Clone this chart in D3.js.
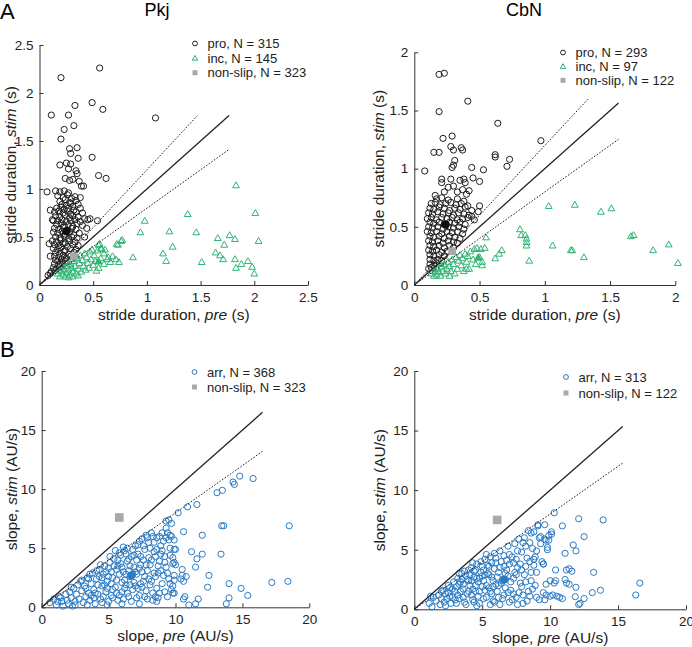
<!DOCTYPE html>
<html><head><meta charset="utf-8">
<script src="https://cdn.jsdelivr.net/npm/d3@7"></script>
<style>
html,body{margin:0;padding:0;background:#fff;}
svg{display:block;font-family:"Liberation Sans",Arial,sans-serif;}
</style></head>
<body>
<script>
// ---------------- DATA ----------------
const strideTicksPkj = [0, 0.5, 1, 1.5, 2, 2.5];
const strideTicksCbN = [0, 0.5, 1, 1.5, 2];
const slopeTicks = [0, 5, 10, 15, 20];

const legendPkjA = ["pro, N = 315", "inc, N = 145", "non-slip, N = 323"];
const legendCbnA = ["pro, N = 293", "inc, N = 97", "non-slip, N = 122"];
const legendPkjB = ["arr, N = 368", "non-slip, N = 323"];
const legendCbnB = ["arr, N = 313", "non-slip, N = 122"];

// Pkj stride duration: pre (x), stim (y)
const pkjPro = [
[0.20,2.16],[0.56,2.26],[0.11,1.77],[0.27,1.77],[0.49,1.90],[0.33,1.87],[0.59,1.83],[0.23,1.62],[0.32,1.66],[0.20,1.52],
[1.08,1.74],[0.28,1.42],[0.29,1.37],[0.35,1.43],[0.36,1.32],[0.49,1.33],[0.19,1.25],[0.25,1.27],[0.29,1.26],[0.27,1.21],
[0.34,1.19],[0.55,1.14],[0.62,1.11],[0.24,1.11],[0.28,1.09],[0.31,1.10],[0.35,1.16],[0.37,1.08],[0.39,1.03],[0.41,1.03],
[0.38,0.91],[0.07,0.97],[0.15,0.98],[0.19,0.97],[0.23,0.98],[0.27,0.96],[0.10,0.78],[0.13,0.67],[0.09,0.43],[0.10,0.30],
[0.54,0.67],[0.47,0.69],[0.44,0.59],[0.42,0.50],[0.45,0.68],
[0.17,0.93],[0.22,0.91],[0.26,0.94],[0.30,0.90],[0.33,0.92],
[0.19,0.87],[0.24,0.89],[0.28,0.86],[0.34,0.88],
[0.21,0.84],[0.25,0.83],[0.29,0.85],[0.31,0.82],[0.36,0.84],
[0.16,0.80],[0.20,0.81],[0.23,0.79],[0.27,0.80],[0.32,0.78],[0.38,0.80],
[0.14,0.76],[0.18,0.77],[0.22,0.75],[0.26,0.77],[0.29,0.74],[0.34,0.76],[0.40,0.75],
[0.15,0.72],[0.19,0.71],[0.24,0.73],[0.28,0.70],[0.31,0.72],[0.36,0.71],[0.42,0.69],
[0.12,0.68],[0.17,0.67],[0.21,0.68],[0.25,0.66],[0.29,0.67],[0.33,0.68],[0.38,0.66],
[0.16,0.63],[0.20,0.64],[0.23,0.62],[0.27,0.63],[0.31,0.61],[0.35,0.64],[0.40,0.62],
[0.14,0.59],[0.18,0.58],[0.22,0.60],[0.26,0.57],[0.30,0.59],[0.34,0.58],
[0.13,0.55],[0.17,0.54],[0.21,0.56],[0.24,0.53],[0.28,0.55],[0.32,0.52],[0.37,0.54],
[0.15,0.50],[0.19,0.49],[0.23,0.51],[0.27,0.48],[0.30,0.50],[0.35,0.49],
[0.12,0.46],[0.16,0.45],[0.20,0.47],[0.24,0.44],[0.28,0.46],[0.33,0.45],
[0.14,0.42],[0.18,0.41],[0.22,0.43],[0.26,0.40],[0.31,0.42],[0.36,0.41],
[0.13,0.38],[0.17,0.37],[0.20,0.39],[0.24,0.36],[0.29,0.38],[0.34,0.37],
[0.15,0.34],[0.19,0.33],[0.23,0.35],[0.27,0.32],[0.32,0.34],
[0.14,0.30],[0.18,0.29],[0.22,0.31],[0.25,0.28],[0.29,0.30],
[0.15,0.26],[0.17,0.25],[0.21,0.27],[0.24,0.25],
[0.14,0.22],[0.18,0.21],[0.21,0.23],
[0.13,0.18],[0.16,0.17],[0.19,0.19],
[0.11,0.14],[0.14,0.15],[0.08,0.10],[0.10,0.12]
];
const pkjInc = [
[1.83,1.04],[2.01,0.75],[1.38,0.74],[0.98,0.67],[1.21,0.56],[1.46,0.55],[0.94,0.55],[0.77,0.47],[0.73,0.42],[1.66,0.49],
[1.77,0.52],[1.82,0.48],[2.04,0.46],[1.72,0.42],[1.24,0.40],[1.15,0.33],[1.64,0.34],[1.68,0.31],[1.71,0.27],[1.82,0.27],
[1.94,0.25],[1.88,0.22],[1.83,0.18],[1.98,0.19],[2.00,0.12],[1.18,0.25],[1.51,0.24],[0.87,0.29],[0.71,0.27],[0.74,0.24],
[0.64,0.29],[0.60,0.33],[0.57,0.38],[0.55,0.42],[0.55,0.18],
[0.17,0.12],[0.19,0.09],[0.20,0.15],[0.22,0.11],[0.23,0.17],[0.24,0.09],[0.25,0.13],[0.26,0.20],[0.27,0.16],[0.28,0.11],
[0.29,0.22],[0.30,0.18],[0.31,0.14],[0.32,0.25],[0.33,0.20],[0.34,0.12],[0.35,0.28],[0.36,0.10],[0.36,0.17],[0.37,0.23],
[0.38,0.31],[0.39,0.14],[0.40,0.26],[0.41,0.20],[0.42,0.33],[0.43,0.16],[0.44,0.29],[0.45,0.23],[0.46,0.18],[0.47,0.35],
[0.48,0.27],[0.49,0.37],[0.50,0.21],[0.51,0.31],[0.52,0.25],[0.53,0.15],[0.54,0.36],[0.56,0.43],[0.57,0.28],
[0.58,0.38],[0.60,0.22],[0.61,0.37],[0.63,0.27],[0.66,0.24],[0.68,0.30],[0.72,0.43],[0.76,0.46],
[0.21,0.19],[0.18,0.16],[0.26,0.24],[0.30,0.27],[0.34,0.30],[0.27,0.08],[0.31,0.09]
];
const pkjMeanPro = [0.25, 0.56];
const pkjMeanInc = [0.55, 0.24];
const pkjMeanNonslipA = [0.32, 0.30];

// CbN stride duration
const cbnPro = [
[0.19,1.81],[0.23,1.82],[0.19,1.49],[0.41,1.58],[0.64,1.39],[0.97,1.24],[0.22,1.26],[0.29,1.28],[0.28,1.19],[0.30,1.16],
[0.36,1.18],[0.37,1.16],[0.15,1.14],[0.19,1.14],[0.08,0.98],[0.62,1.12],[0.62,1.10],[0.73,1.08],[0.71,1.02],[0.31,1.07],
[0.30,1.03],[0.29,1.01],[0.44,1.01],[0.53,0.99],[0.50,0.89],[0.21,0.91],[0.21,0.88],[0.28,0.91],[0.35,0.90],[0.38,0.91],
[0.45,0.92],[0.30,0.85],[0.42,0.81],[0.23,0.80],[0.50,0.68],[0.49,0.63],[0.44,0.59],[0.33,0.80],[0.37,0.82],[0.40,0.78],
[0.26,0.84],[0.16,0.77],[0.39,0.88],
[0.17,0.74],[0.21,0.75],[0.26,0.73],[0.33,0.74],[0.38,0.72],
[0.13,0.70],[0.16,0.71],[0.20,0.69],[0.24,0.70],[0.28,0.71],[0.32,0.69],[0.36,0.70],[0.41,0.68],
[0.12,0.66],[0.15,0.65],[0.19,0.67],[0.23,0.66],[0.27,0.64],[0.31,0.66],[0.35,0.65],[0.39,0.67],[0.44,0.64],
[0.11,0.62],[0.14,0.61],[0.18,0.63],[0.22,0.61],[0.26,0.62],[0.30,0.60],[0.34,0.62],[0.38,0.61],[0.42,0.60],
[0.10,0.57],[0.13,0.58],[0.17,0.56],[0.21,0.58],[0.25,0.57],[0.29,0.58],[0.33,0.56],[0.37,0.57],[0.41,0.58],[0.46,0.56],
[0.12,0.54],[0.15,0.53],[0.19,0.54],[0.23,0.52],[0.27,0.54],[0.31,0.53],[0.35,0.54],[0.39,0.52],
[0.11,0.50],[0.14,0.49],[0.18,0.50],[0.22,0.48],[0.26,0.50],[0.30,0.49],[0.34,0.50],[0.38,0.48],
[0.10,0.46],[0.13,0.45],[0.17,0.46],[0.21,0.44],[0.25,0.46],[0.29,0.45],[0.33,0.46],[0.37,0.44],
[0.12,0.42],[0.15,0.41],[0.19,0.42],[0.23,0.40],[0.27,0.42],[0.31,0.41],[0.35,0.40],
[0.11,0.38],[0.14,0.37],[0.18,0.38],[0.22,0.36],[0.26,0.38],[0.30,0.37],[0.33,0.36],
[0.12,0.34],[0.15,0.33],[0.19,0.34],[0.23,0.32],[0.27,0.34],[0.30,0.32],
[0.11,0.30],[0.14,0.29],[0.17,0.30],[0.21,0.28],[0.25,0.29],
[0.12,0.26],[0.15,0.25],[0.19,0.26],[0.23,0.25],
[0.12,0.22],[0.15,0.21],[0.18,0.22],[0.21,0.21],
[0.12,0.18],[0.15,0.17],[0.17,0.19],[0.11,0.14],[0.13,0.15]
];
const cbnInc = [
[1.03,0.68],[1.23,0.69],[1.43,0.63],[1.51,0.66],[1.66,0.42],[1.68,0.43],[0.81,0.48],[0.82,0.43],[0.85,0.43],[0.86,0.40],
[0.86,0.37],[0.86,0.34],[1.06,0.34],[1.20,0.30],[1.21,0.30],[1.30,0.24],[1.83,0.30],[1.95,0.35],[2.02,0.19],[0.88,0.21],
[0.67,0.30],[0.65,0.27],[0.62,0.23],[0.55,0.41],[0.54,0.32],[0.51,0.31],[0.48,0.32],[0.52,0.17],[0.40,0.14],
[0.13,0.10],[0.15,0.08],[0.16,0.12],[0.17,0.09],[0.18,0.14],[0.19,0.11],[0.20,0.08],[0.21,0.16],[0.22,0.12],[0.23,0.18],
[0.24,0.10],[0.25,0.14],[0.26,0.20],[0.27,0.08],[0.27,0.16],[0.28,0.12],[0.29,0.22],[0.30,0.18],[0.31,0.10],[0.32,0.24],
[0.33,0.14],[0.34,0.21],[0.35,0.26],[0.36,0.17],[0.37,0.23],[0.38,0.12],[0.39,0.27],[0.40,0.20],[0.41,0.25],[0.42,0.14],
[0.43,0.29],[0.45,0.22],[0.46,0.31],[0.47,0.18],[0.50,0.24],[0.52,0.20],[0.20,0.19],[0.17,0.15],[0.14,0.12]
];
const cbnMeanPro = [0.24, 0.52];
const cbnMeanInc = [0.49, 0.23];
const cbnMeanNonslipA = [0.29, 0.29];

// Pkj slope: pre (x), stim (y)
const pkjArr = [
[14.8,11.1],[15.8,10.9],[13.5,9.9],[13.1,9.7],[14.3,10.6],[14.4,10.4],[11.6,8.7],[10.9,8.5],[10.2,8.0],[9.3,7.3],
[9.7,7.1],[9.3,6.7],[18.5,6.9],[13.45,6.9],[13.6,6.9],[10.6,6.4],[12.0,6.1],[11.2,4.7],[12.0,4.5],[11.6,4.1],
[11.5,3.4],[13.4,4.5],[12.5,2.7],[17.2,2.1],[18.4,2.2],[14.0,2.0],[12.4,1.7],[14.9,1.6],[15.4,1.0],[14.0,0.8],
[13.8,0.3],[11.7,0.7],[10.7,0.9],[10.6,0.7],[11.0,0.2],[11.5,0.3],[9.9,1.2],[9.8,1.8],[10.8,2.6],[10.5,2.7],
[10.5,3.2],[9.9,3.8],[9.9,4.9],[9.5,5.7],[9.6,6.1],[10.6,2.2],[10.4,2.4],
[0.6,0.4],[0.9,0.7],[1.1,0.2],[1.3,0.9],[1.5,0.5],[1.6,0.1],[1.8,1.1],[1.9,0.6],[2.0,0.3],
[2.1,1.3],[2.2,0.8],[2.3,0.1],[2.4,1.6],[2.5,0.5],[2.6,1.1],[2.7,1.9],[2.8,0.7],[2.9,2.2],[3.0,1.4],[2.5,0.2],
[3.1,0.4],[3.2,1.8],[3.3,0.9],[3.4,2.5],[3.5,1.2],[3.6,0.6],[3.7,2.0],[3.8,2.9],[3.9,1.5],[4.0,0.3],[3.3,1.6],[3.7,1.0],[3.5,2.4],
[4.1,2.4],[4.2,1.1],[4.3,3.2],[4.4,0.7],[4.5,1.8],[4.6,2.8],[4.7,3.5],[4.8,1.3],[4.9,2.2],[5.0,0.5],[4.2,1.9],[4.4,3.6],[4.6,0.9],[4.8,3.0],[4.9,1.6],[4.3,2.6],
[5.1,3.8],[5.2,1.0],[5.3,2.5],[5.4,4.1],[5.5,1.7],[5.6,3.2],[5.7,0.6],[5.8,2.8],[5.9,4.4],[6.0,1.3],[5.2,2.0],[5.4,3.5],[5.6,2.3],[5.8,1.0],[5.9,3.7],[5.1,4.3],[5.5,4.8],[5.7,4.0],[6.0,2.1],[5.3,0.8],
[6.1,3.0],[6.2,4.8],[6.3,1.9],[6.4,3.9],[6.5,0.9],[6.6,2.6],[6.7,4.3],[6.8,1.5],[6.9,3.4],[7.0,5.2],[6.2,2.3],[6.4,1.2],[6.6,3.5],[6.8,4.9],[6.9,2.1],[6.3,4.5],[6.5,3.1],[6.7,0.5],[7.0,1.8],[6.1,5.1],
[7.1,2.8],[7.2,4.5],[7.3,1.0],[7.4,3.6],[7.5,5.8],[7.6,2.2],[7.7,4.9],[7.8,1.4],[7.9,3.1],[8.0,5.5],[7.2,5.3],[7.4,2.0],[7.6,4.0],[7.8,6.1],[7.9,0.7],[7.3,3.3],[7.7,2.6],[8.0,4.2],[7.5,1.7],[7.1,0.8],
[8.1,3.6],[8.2,6.3],[8.3,1.2],[8.4,4.7],[8.5,2.6],[8.6,5.9],[8.7,0.8],[8.8,3.9],[8.9,5.2],[9.0,2.0],[8.2,2.2],[8.4,5.5],[8.6,1.6],[8.8,6.0],[8.9,3.1],[8.3,0.6],[8.5,4.3],[8.7,2.9],[9.0,4.8],[8.1,1.9],
[9.1,5.6],[9.2,1.3],[9.3,3.4],[9.4,6.3],[9.5,2.4],[9.6,5.0],[9.7,1.5],[9.8,3.7],[9.9,2.7],[10.0,4.9],[9.2,3.8],[9.4,0.9],[9.6,2.0],[9.8,1.2],[9.3,5.9],[9.5,7.4],[9.9,5.7],[9.7,6.0],[9.9,2.3],[10.0,3.6],
[3.0,2.3],[3.4,0.2],[3.6,2.8],[4.0,1.2],[4.1,3.1],[4.5,0.4],[4.5,2.5],[4.7,1.9],[5.0,3.3],[5.0,2.6],[5.2,3.0],[5.3,1.5],
[5.6,1.2],[5.7,3.5],[5.8,4.6],[6.0,3.4],[6.1,0.7],[6.2,1.6],[6.3,2.8],[6.4,5.0],[6.5,4.1],[6.6,1.9],[6.8,2.8],[6.9,4.4],
[7.0,3.0],[7.1,4.0],[7.2,1.6],[7.3,5.6],[7.4,4.3],[7.5,3.0],[7.6,5.2],[7.7,0.9],[7.8,3.6],[7.9,5.9],[8.0,2.4],[8.1,5.0],
[8.2,4.0],[8.3,6.0],[8.4,2.9],[8.5,0.9],[8.6,4.9],[8.7,3.5],[8.8,1.2],[8.9,4.5],[9.0,6.3],[9.1,2.7],[9.2,4.3],[9.4,2.9],
[9.6,4.4],[9.8,4.2],[2.2,1.7],[1.4,0.8],[1.2,0.5],[3.9,0.8],[4.9,0.2],[6.0,0.3],[7.3,0.3],[8.6,0.5]
];
const pkjMeanArr = [6.7, 2.7];
const pkjMeanNonslipB = [5.8, 7.6];

// CbN slope
const cbnArr = [
[10.3,8.1],[12.1,7.6],[13.9,7.5],[10.9,7.0],[12.5,6.1],[16.6,2.2],[16.3,1.2],[13.7,1.6],[13.2,3.1],[13.1,1.4],
[12.5,0.9],[12.1,0.4],[12.2,0.5],[11.9,1.85],[11.7,5.4],[11.9,4.9],[11.1,4.7],[11.2,3.3],[11.4,3.4],[11.6,3.2],
[11.1,2.5],[11.2,2.2],[11.4,2.1],[10.4,2.4],[10.3,2.2],[10.4,3.3],[10.7,1.0],[10.2,1.2],[9.6,0.8],[9.5,3.8],
[9.2,6.0],[9.7,5.8],[9.8,5.2],[8.8,4.2],[10.9,0.9],[10.5,1.1],[11.85,1.06],[9.1,7.0],[9.6,7.1],[8.6,6.4],[10.1,6.3],
[1.1,0.5],[1.3,0.2],[1.4,1.0],[1.6,0.7],[1.8,1.2],[1.9,0.4],[2.0,0.9],[1.2,1.1],
[2.1,1.6],[2.2,0.6],[2.3,1.3],[2.4,0.9],[2.5,2.0],[2.6,1.1],[2.7,0.5],[2.8,1.7],[2.9,2.3],[3.0,0.8],[2.5,1.4],[2.8,1.0],
[3.1,1.9],[3.2,2.6],[3.3,0.9],[3.4,1.5],[3.5,3.0],[3.6,2.1],[3.7,0.6],[3.8,2.8],[3.9,1.3],[4.0,3.3],[3.2,1.2],[3.4,2.3],[3.6,1.7],[3.8,0.4],[3.9,2.5],[3.3,3.0],[3.7,3.2],
[4.1,2.0],[4.2,3.5],[4.3,0.8],[4.4,2.7],[4.5,1.5],[4.6,3.8],[4.7,2.3],[4.8,0.5],[4.9,3.1],[5.0,1.9],[4.2,1.2],[4.4,3.2],[4.6,0.3],[4.8,2.6],[4.9,4.0],[4.1,2.9],[4.5,2.0],[4.7,1.1],[5.0,3.6],[4.3,3.9],
[5.1,2.4],[5.2,4.2],[5.3,1.0],[5.4,3.0],[5.5,1.8],[5.6,4.4],[5.7,2.7],[5.8,0.7],[5.9,3.4],[6.0,2.1],[5.2,1.6],[5.4,3.7],[5.6,0.4],[5.8,2.4],[5.9,4.7],[5.1,3.3],[5.5,2.9],[5.7,1.3],[6.0,3.9],[5.3,4.6],
[6.1,1.5],[6.2,3.1],[6.3,4.9],[6.4,2.2],[6.5,0.9],[6.6,3.6],[6.7,1.8],[6.8,4.1],[6.9,2.8],[7.0,0.6],[6.2,2.0],[6.4,4.0],[6.6,1.2],[6.8,3.3],[6.9,5.3],[6.3,0.4],[6.7,2.5],[7.0,3.8],
[7.1,1.6],[7.2,4.4],[7.3,2.6],[7.4,5.5],[7.5,1.0],[7.6,3.5],[7.7,5.9],[7.8,2.2],[7.9,4.8],[8.0,0.5],[7.3,3.9],[7.5,2.9],[7.7,1.4],[7.9,3.3],[8.0,5.6],[7.2,0.8],[7.6,4.9],
[8.1,6.0],[8.2,2.3],[8.3,4.3],[8.4,6.6],[8.5,1.1],[8.6,3.1],[8.7,5.1],[8.8,3.7],[8.9,2.0],[9.0,4.9],[8.3,0.7],[8.5,5.6],[8.7,1.7],[8.8,6.5],[8.2,3.6],[9.0,1.0],
[9.1,7.1],[9.2,0.8],[9.3,6.1],[9.4,4.0],[9.5,1.4],[9.6,5.9],[9.7,1.2],[9.8,5.0],[9.9,6.2],[10.0,1.1],[9.3,5.5],[9.5,3.8],[9.7,2.1],[9.9,5.8],[10.1,6.5],[10.0,2.4],
[2.3,0.3],[2.6,1.8],[3.0,1.5],[3.1,0.5],[3.5,2.5],[3.6,1.0],[4.0,2.4],[4.0,1.5],[4.2,2.4],[4.3,1.7],[4.5,3.3],[4.6,2.6],
[4.8,1.5],[5.0,2.8],[5.1,0.9],[5.2,2.9],[5.3,2.0],[5.5,3.6],[5.6,1.5],[5.7,3.9],[5.8,1.9],[6.0,4.3],[6.1,2.7],[6.2,1.0],
[6.3,3.5],[6.5,2.4],[6.6,4.5],[6.7,3.0],[6.9,1.4],[7.0,4.6],[7.1,2.3],[7.3,1.3],[7.4,3.1],[7.5,4.2],[7.8,3.8],[7.9,1.9],
[8.1,2.9],[8.2,5.3],[8.4,1.5],[8.5,4.0],[8.6,2.4],[8.9,4.4],[9.0,3.1],[2.0,1.5],[3.3,2.1],[4.4,0.6],[5.9,0.6],[7.6,0.4],[8.0,1.2]
];
const cbnMeanArr = [6.6, 2.5];
const cbnMeanNonslipB = [6.1, 7.5];

// reference lines: unity (solid) and +/-20% (dotted)
const unitySlope = 1, upperSlope = 1.2, lowerSlope = 0.8;

// ---------------- DRAWING ----------------
const BLACK = "#1e1e1e", GREEN = "#2fb574", BLUE = "#2a7ac4", GREY = "#a9a9a9";
const svg = d3.select("body").append("svg").attr("width", 692).attr("height", 647);

svg.append("text").attr("x", 0).attr("y", 19).attr("font-size", 22).text("A");
svg.append("text").attr("x", 0).attr("y", 357).attr("font-size", 22).text("B");
svg.append("text").attr("x", 157).attr("y", 16).attr("font-size", 18).attr("text-anchor", "middle").text("Pkj");
svg.append("text").attr("x", 524).attr("y", 16).attr("font-size", 18).attr("text-anchor", "middle").text("CbN");

function panel(c) {
  const x = d3.scaleLinear().domain(c.dom).range([c.x0, c.x1]);
  const y = d3.scaleLinear().domain(c.dom).range([c.y0, c.y1]);
  const g = svg.append("g");
  const fmt = d3.format("~g");
  // axes (ticks inward)
  const ax = g.append("g").attr("transform", `translate(0,${c.y0})`)
    .call(d3.axisBottom(x).tickValues(c.ticks).tickFormat(fmt).tickSizeInner(-4).tickSizeOuter(0).tickPadding(7));
  const ay = g.append("g").attr("transform", `translate(${c.x0},0)`)
    .call(d3.axisLeft(y).tickValues(c.ticks).tickFormat(fmt).tickSizeInner(-4).tickSizeOuter(0).tickPadding(7));
  [ax, ay].forEach(a => {
    a.selectAll("path,line").attr("stroke", "#333").attr("stroke-width", 1);
    a.selectAll("text").attr("font-size", 13.5).attr("fill", "#222").attr("font-family", '"Liberation Sans",Arial,sans-serif');
  });
  ax.selectAll("text").attr("dy", "0").attr("y", 17);
  ay.selectAll("text").attr("x", -6);
  // labels
  const xl = g.append("text").attr("x", (c.x0 + c.x1) / 2).attr("y", c.xlabY)
    .attr("text-anchor", "middle").attr("font-size", 15.5).attr("fill", "#222");
  xl.append("tspan").text(c.lab[0] + ", ");
  xl.append("tspan").attr("font-style", "italic").text("pre");
  xl.append("tspan").text(" " + c.lab[1]);
  const yl = g.append("text").attr("transform", `translate(${c.ylabX},${(c.y0 + c.y1) / 2}) rotate(-90)`)
    .attr("text-anchor", "middle").attr("font-size", 15.5).attr("fill", "#222");
  yl.append("tspan").text(c.lab[0] + ", ");
  yl.append("tspan").attr("font-style", "italic").text("stim");
  yl.append("tspan").text(" " + c.lab[1]);

  // points
  const tri = d3.symbol().type(d3.symbolTriangle).size(20);
  const triBig = d3.symbol().type(d3.symbolTriangle).size(34);
  c.series.forEach(s => {
    if (s.shape === "circle") {
      g.append("g").selectAll("circle").data(s.data).join("circle")
        .attr("cx", d => x(d[0])).attr("cy", d => y(d[1])).attr("r", 3.1)
        .attr("fill", "none").attr("stroke", s.color).attr("stroke-width", 1);
    } else {
      g.append("g").selectAll("path").data(s.data).join("path")
        .attr("d", tri).attr("transform", d => `translate(${x(d[0])},${y(d[1]) + 0.6})`)
        .attr("fill", "none").attr("stroke", s.color).attr("stroke-width", 1);
    }
  });
  // lines
  const line = (slope, xEnd, dash) => {
    g.append("line").attr("x1", x(0)).attr("y1", y(0)).attr("x2", x(xEnd)).attr("y2", y(xEnd * slope))
      .attr("stroke", "#222").attr("stroke-width", dash ? 1 : 1.3).attr("stroke-dasharray", dash ? "1.6,1.6" : null);
  };
  line(unitySlope, c.lineEnd, false);
  if (c.upperEnd) line(upperSlope, c.upperEnd, true);
  line(lowerSlope, c.lineEnd, true);
  // means
  c.means.forEach(m => {
    if (m.shape === "circle") {
      g.append("circle").attr("cx", x(m.v[0])).attr("cy", y(m.v[1])).attr("r", m.r).attr("fill", m.color);
    } else if (m.shape === "tri") {
      g.append("path").attr("d", triBig).attr("transform", `translate(${x(m.v[0])},${y(m.v[1])})`).attr("fill", m.color);
    } else {
      g.append("rect").attr("x", x(m.v[0]) - m.r).attr("y", y(m.v[1]) - m.r).attr("width", 2 * m.r).attr("height", 2 * m.r).attr("fill", m.color);
    }
  });
  // legend
  c.legend.forEach((L, i) => {
    const ly = c.legY + i * c.legDy;
    if (L.shape === "circle") {
      g.append("circle").attr("cx", c.legX).attr("cy", ly).attr("r", 2.4).attr("fill", "none").attr("stroke", L.color).attr("stroke-width", 1);
    } else if (L.shape === "tri") {
      g.append("path").attr("d", d3.symbol().type(d3.symbolTriangle).size(13)).attr("transform", `translate(${c.legX},${ly + 0.5})`)
        .attr("fill", "none").attr("stroke", L.color).attr("stroke-width", 1);
    } else {
      g.append("rect").attr("x", c.legX - 2.5).attr("y", ly - 2.5).attr("width", 5).attr("height", 5).attr("fill", L.color);
    }
    g.append("text").attr("x", c.legX + 12.5).attr("y", ly + 4.6).attr("font-size", 13).attr("fill", "#222").text(L.text);
  });
}

panel({
  dom: [0, 2.5], ticks: strideTicksPkj, x0: 39.5, x1: 308, y0: 285, y1: 45,
  lab: ["stride duration", "(s)"], xlabY: 320, ylabX: 15.5,
  series: [{shape: "circle", color: BLACK, data: pkjPro}, {shape: "tri", color: GREEN, data: pkjInc}],
  lineEnd: 1.765, upperEnd: 1.47,
  means: [{shape: "circle", v: pkjMeanPro, color: "#111", r: 4.2}, {shape: "tri", v: pkjMeanInc, color: GREEN},
          {shape: "square", v: pkjMeanNonslipA, color: GREY, r: 3.8}],
  legX: 195, legY: 43.5, legDy: 14.6,
  legend: [{shape: "circle", color: BLACK, text: legendPkjA[0]}, {shape: "tri", color: GREEN, text: legendPkjA[1]},
           {shape: "square", color: GREY, text: legendPkjA[2]}]
});
panel({
  dom: [0, 2], ticks: strideTicksCbN, x0: 414.3, x1: 675.3, y0: 285, y1: 52.3,
  lab: ["stride duration", "(s)"], xlabY: 320, ylabX: 384,
  series: [{shape: "circle", color: BLACK, data: cbnPro}, {shape: "tri", color: GREEN, data: cbnInc}],
  lineEnd: 1.565, upperEnd: 1.335,
  means: [{shape: "circle", v: cbnMeanPro, color: "#111", r: 4.2}, {shape: "tri", v: cbnMeanInc, color: GREEN},
          {shape: "square", v: cbnMeanNonslipA, color: GREY, r: 3.8}],
  legX: 563, legY: 52.5, legDy: 13.9,
  legend: [{shape: "circle", color: BLACK, text: legendCbnA[0]}, {shape: "tri", color: GREEN, text: legendCbnA[1]},
           {shape: "square", color: GREY, text: legendCbnA[2]}]
});
panel({
  dom: [0, 20], ticks: slopeTicks, x0: 41.7, x1: 309.3, y0: 607.3, y1: 371,
  lab: ["slope", "(AU/s)"], xlabY: 641, ylabX: 16.5,
  series: [{shape: "circle", color: BLUE, data: pkjArr}],
  lineEnd: 16.5, upperEnd: null,
  means: [{shape: "circle", v: pkjMeanArr, color: BLUE, r: 4}, {shape: "square", v: pkjMeanNonslipB, color: GREY, r: 4.3}],
  legX: 194.5, legY: 372, legDy: 15,
  legend: [{shape: "circle", color: BLUE, text: legendPkjB[0]}, {shape: "square", color: GREY, text: legendPkjB[1]}]
});
panel({
  dom: [0, 20], ticks: slopeTicks, x0: 414.3, x1: 686, y0: 609.3, y1: 371,
  lab: ["slope", "(AU/s)"], xlabY: 642.5, ylabX: 385,
  series: [{shape: "circle", color: BLUE, data: cbnArr}],
  lineEnd: 15.34, upperEnd: null,
  means: [{shape: "circle", v: cbnMeanArr, color: BLUE, r: 4}, {shape: "square", v: cbnMeanNonslipB, color: GREY, r: 4.3}],
  legX: 566, legY: 377, legDy: 16,
  legend: [{shape: "circle", color: BLUE, text: legendCbnB[0]}, {shape: "square", color: GREY, text: legendCbnB[1]}]
});
</script>
</body></html>
